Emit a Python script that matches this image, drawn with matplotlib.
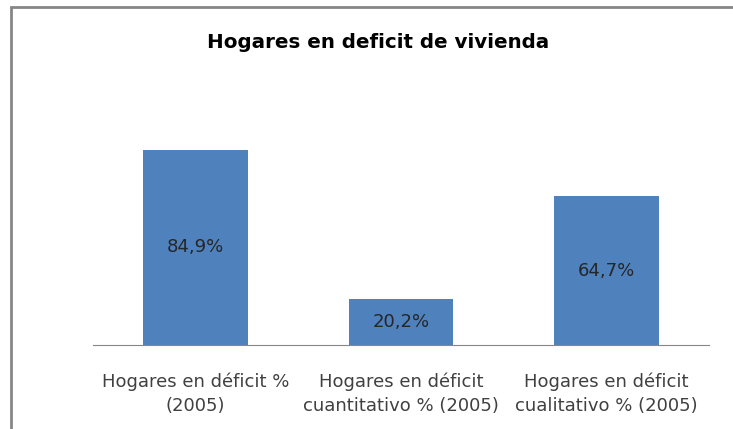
import matplotlib.pyplot as plt
from matplotlib.patches import Rectangle

# Datos
categorias = ['Hogares en déficit %\n(2005)',
              'Hogares en déficit\ncuantitativo % (2005)',
              'Hogares en déficit\ncualitativo % (2005)']
valores = [84.9, 20.2, 64.7]
etiquetas = ['84,9%', '20,2%', '64,7%']

plt.rcParams['font.family'] = ['DejaVu Sans']

W, H = 733, 429
fig = plt.figure(figsize=(W / 100, H / 100), dpi=100)

# marco del gráfico (recortado a la derecha y abajo)
fig.patches.append(Rectangle((11 / W, -0.1), 1.2, 1 - 7 / H + 0.1,
                             transform=fig.transFigure, fill=False,
                             edgecolor='#868686', linewidth=2))

ax = fig.add_axes([93 / W, (H - 345) / H, (709 - 93) / W, 230 / H])
x = range(len(valores))
ax.bar(x, valores, width=0.51, color='#4F81BD')
for i, v in enumerate(valores):
    ax.text(i, v / 2, etiquetas[i], ha='center', va='center',
            fontsize=13, color='#262626')

ax.set_xlim(-0.5, 2.5)
ax.set_ylim(0, 100)
ax.set_xticks(list(x))
ax.set_xticklabels(categorias, fontsize=13, color='#404040', linespacing=1.4)
ax.tick_params(axis='x', length=0, pad=20)
ax.set_yticks([])
for s in ['top', 'right', 'left']:
    ax.spines[s].set_visible(False)
ax.spines['bottom'].set_color('#868686')

fig.text(378 / W, 1 - 42 / H, 'Hogares en deficit de vivienda',
         ha='center', va='center', fontsize=14.3, fontweight='bold', color='black')

fig.savefig('out.png', dpi=100)
